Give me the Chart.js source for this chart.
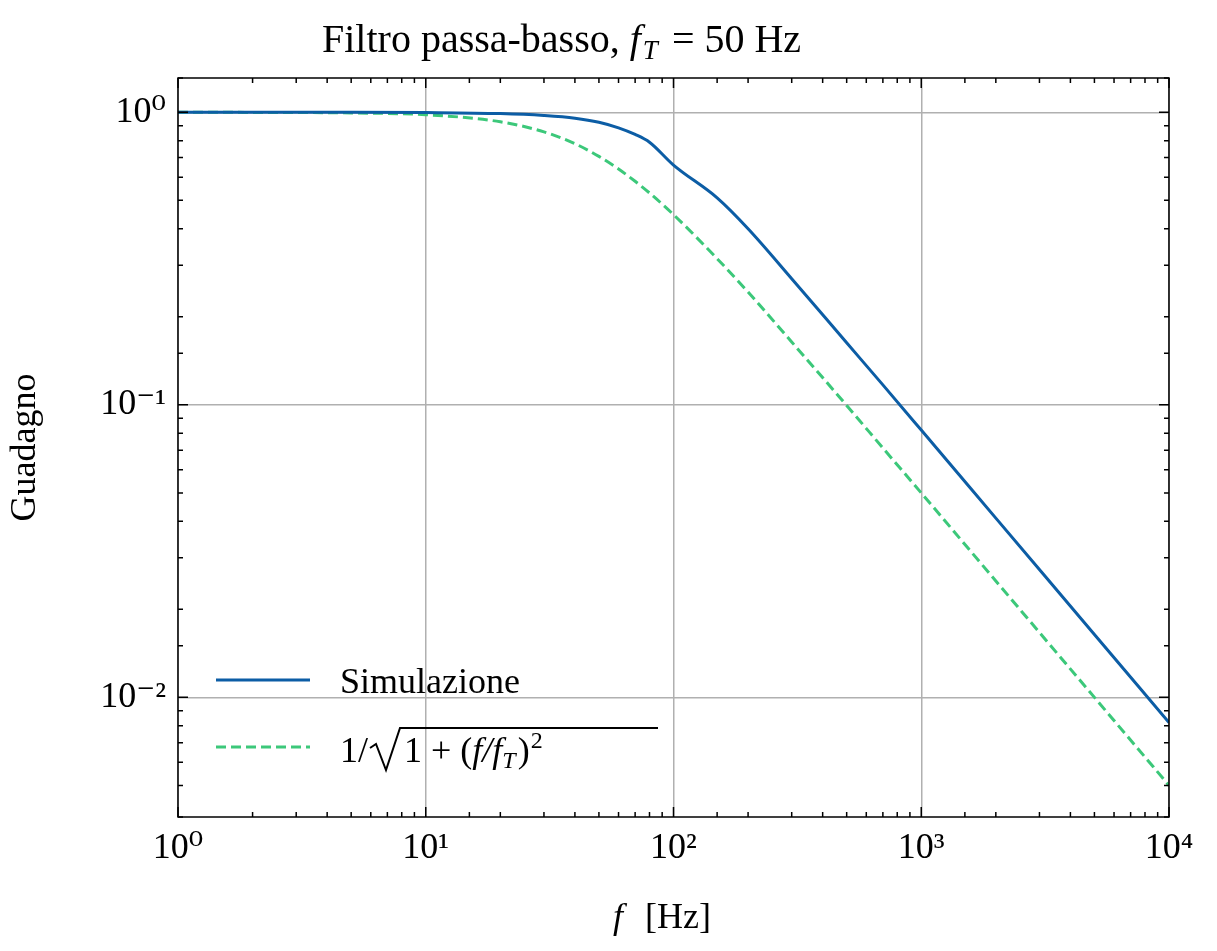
<!DOCTYPE html>
<html><head><meta charset="utf-8">
<script src="https://cdn.jsdelivr.net/npm/chart.js@4.4.1/dist/chart.umd.min.js"></script>
<style>html,body{margin:0;padding:0;background:#fff}#w{width:1217px;height:951px}</style>
</head><body><div id="w"><canvas id="c" width="1217" height="951"></canvas></div>
<script>
const freqs=[1,2,5,10,20,30,40,50,60,70,80,100,150,200,300,500,700,1000,2000,5000,10000];
const simulazione=[1,1,1,0.998,0.99,0.975,0.955,0.925,0.885,0.84,0.79,0.66,0.51,0.40,0.27,0.163,0.117,0.082,0.041,0.0164,0.0082];
const teorica=[1,0.9992,0.995,0.981,0.928,0.857,0.781,0.707,0.640,0.581,0.530,0.447,0.316,0.243,0.164,0.0995,0.0712,0.05,0.025,0.01,0.005];
const FONT='"Liberation Serif","DejaVu Serif",serif';
const sup={'0':'⁰','1':'¹','2':'²','3':'³','4':'⁴','-':'⁻'};
function isMajor(v){const l=Math.log10(v);return Math.abs(l-Math.round(l))<1e-9;}
function lab(v){if(!isMajor(v))return '';const e=String(Math.round(Math.log10(v)));return '10'+e.split('').map(c=>sup[c]).join('');}
const extras={id:'extras',afterDraw(ch){
 const c=ch.ctx,a=ch.chartArea;
 c.save();c.strokeStyle='#000';c.lineWidth=1.5;
 const xs=ch.scales.x,ys=ch.scales.y;
 xs.ticks.forEach(t=>{const p=xs.getPixelForValue(t.value);const L=isMajor(t.value)?10:5;
  c.beginPath();c.moveTo(p,a.bottom);c.lineTo(p,a.bottom-L);c.moveTo(p,a.top);c.lineTo(p,a.top+L);c.stroke();});
 ys.ticks.forEach(t=>{const p=ys.getPixelForValue(t.value);const L=isMajor(t.value)?10:5;
  c.beginPath();c.moveTo(a.left,p);c.lineTo(a.left+L,p);c.moveTo(a.right,p);c.lineTo(a.right-L,p);c.stroke();});
 c.strokeRect(a.left,a.top,a.right-a.left,a.bottom-a.top);
 c.fillStyle='#000';c.textBaseline='alphabetic';
 // title
 c.font='40px '+FONT;let x=322,y=52;
 c.fillText('Filtro passa-basso, ',x,y);x+=c.measureText('Filtro passa-basso, ').width;
 c.font='italic 40px '+FONT;c.fillText('f',x,y);x+=c.measureText('f').width+2;
 c.font='italic 27px '+FONT;c.fillText('T',x,y+7);x+=c.measureText('T').width+4;
 c.font='40px '+FONT;c.fillText(' = 50 Hz',x,y);
 // x label
 c.font='italic 36px '+FONT;c.fillText('f',613,928);
 c.font='36px '+FONT;c.fillText('[Hz]',645,928);
 // legend
 c.lineWidth=3;c.strokeStyle='#0C5DA5';c.beginPath();c.moveTo(216,680);c.lineTo(310,680);c.stroke();
 c.strokeStyle='#3CC87A';c.setLineDash([10,5]);c.beginPath();c.moveTo(216,747);c.lineTo(310,747);c.stroke();c.setLineDash([]);
 c.font='36px '+FONT;c.fillText('Simulazione',340,693);
 c.fillText('1/',340,762);
 // radical sign
 c.lineWidth=2;c.strokeStyle='#000';c.beginPath();
 c.moveTo(370,748);c.lineTo(376,744);c.lineTo(386,770);c.lineTo(400,728);c.lineTo(658,728);c.stroke();
 c.fillText('1 + (',404,762);let lx=404+c.measureText('1 + (').width;
 c.font='italic 36px '+FONT;c.fillText('f/f',lx,762);lx+=c.measureText('f/f').width;
 c.font='italic 24px '+FONT;c.fillText('T',lx,768);lx+=c.measureText('T').width+2;
 c.font='36px '+FONT;c.fillText(')',lx,762);lx+=c.measureText(')').width+1;
 c.font='24px '+FONT;c.fillText('2',lx,748);
 c.restore();
}};
new Chart(document.getElementById('c'),{type:'line',
 data:{labels:freqs,datasets:[
  {data:freqs.map((f,i)=>({x:f,y:simulazione[i]})),borderColor:'#0C5DA5',borderWidth:3,pointRadius:0,cubicInterpolationMode:'monotone'},
  {data:freqs.map((f,i)=>({x:f,y:teorica[i]})),borderColor:'#3CC87A',borderWidth:3,borderDash:[10,5],pointRadius:0,cubicInterpolationMode:'monotone'}]},
 options:{responsive:false,animation:false,layout:{padding:{left:0,right:48,top:78,bottom:0}},
  plugins:{legend:{display:false},tooltip:{enabled:false}},
  scales:{
   x:{type:'logarithmic',min:1,max:10000,afterFit(s){s.height=134;},
    grid:{color:ctx=>isMajor(ctx.tick.value)?'#b0b0b0':'rgba(0,0,0,0)',lineWidth:1.5,drawTicks:false},border:{display:false},
    ticks:{autoSkip:false,maxRotation:0,padding:10,color:'#000',font:{family:FONT,size:36},callback:v=>lab(v)}},
   y:{type:'logarithmic',min:0.0039,max:1.31,afterFit(s){s.width=178;},
    grid:{color:ctx=>isMajor(ctx.tick.value)?'#b0b0b0':'rgba(0,0,0,0)',lineWidth:1.5,drawTicks:false},border:{display:false},
    title:{display:true,text:'Guadagno',color:'#000',font:{family:FONT,size:36},padding:{bottom:0}},
    ticks:{autoSkip:false,padding:12,color:'#000',font:{family:FONT,size:36},callback:v=>lab(v)}}}},
 plugins:[extras]});
</script></body></html>
